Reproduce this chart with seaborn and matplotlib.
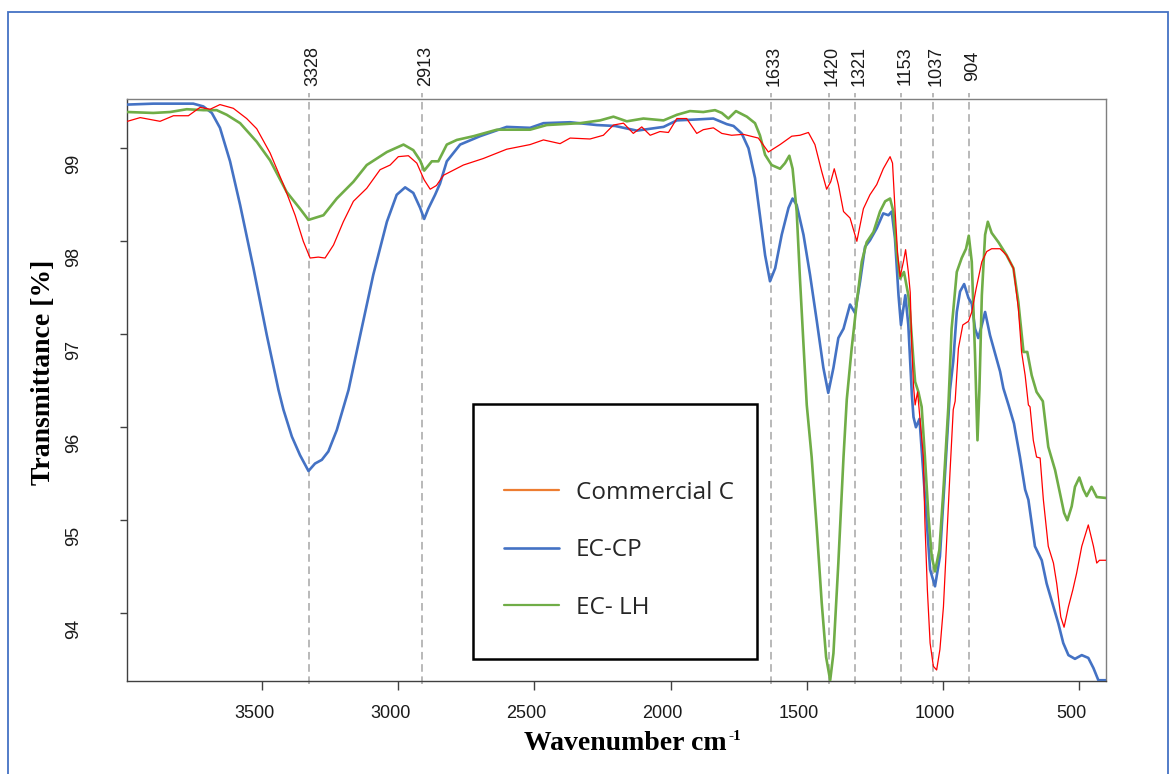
import matplotlib
matplotlib.use("Agg")
import matplotlib.pyplot as plt
from matplotlib.lines import Line2D
from matplotlib.patches import Rectangle
from matplotlib.transforms import ScaledTranslation
import seaborn as sns

# ---- FTIR spectra: wavenumber (cm-1) and transmittance (%) ----
wn_commercial = [3995, 3948, 3875, 3826, 3771, 3728, 3691, 3655, 3606, 3557, 3520, 3471, 3422, 3379,
                 3349, 3324, 3294, 3269, 3238, 3202, 3165, 3116, 3067, 3030, 3000, 2963, 2932, 2905,
                 2883, 2860, 2834, 2761, 2688, 2602, 2516, 2467, 2406, 2369, 2296, 2247, 2210, 2173,
                 2137, 2106, 2075, 2039, 2008, 1977, 1941, 1904, 1880, 1843, 1812, 1776, 1733, 1678,
                 1641, 1598, 1555, 1525, 1494, 1470, 1445, 1427, 1412, 1399, 1384, 1365, 1341, 1316,
                 1292, 1268, 1243, 1219, 1194, 1185, 1176, 1166, 1157, 1145, 1137, 1127, 1120, 1114,
                 1108, 1102, 1093, 1072, 1066, 1057, 1047, 1035, 1023, 1011, 998, 986, 974, 962,
                 955, 943, 927, 906, 894, 878, 857, 839, 821, 790, 766, 741, 723, 711, 698, 686,
                 680, 668, 656, 643, 631, 613, 594, 582, 567, 555, 539, 523, 509, 490, 466, 447,
                 435, 425, 401]
t_commercial = [99.29, 99.33, 99.29, 99.35, 99.35, 99.44, 99.42, 99.47, 99.43, 99.32, 99.21, 98.95, 98.61, 98.28,
                98.00, 97.82, 97.83, 97.82, 97.96, 98.21, 98.43, 98.57, 98.77, 98.82, 98.91, 98.92, 98.84, 98.66,
                98.56, 98.60, 98.71, 98.82, 98.89, 98.99, 99.04, 99.09, 99.05, 99.11, 99.10, 99.14, 99.25, 99.27,
                99.16, 99.23, 99.14, 99.18, 99.17, 99.32, 99.32, 99.16, 99.20, 99.22, 99.16, 99.14, 99.15, 99.11,
                98.96, 99.04, 99.13, 99.14, 99.17, 99.04, 98.75, 98.56, 98.64, 98.78, 98.61, 98.32, 98.25, 98.00,
                98.35, 98.50, 98.61, 98.78, 98.91, 98.84, 98.35, 97.85, 97.62, 97.78, 97.91, 97.67, 97.45, 96.85,
                96.45, 96.24, 96.38, 95.69, 94.97, 94.25, 93.68, 93.43, 93.39, 93.61, 94.07, 94.79, 95.51, 96.19,
                96.28, 96.85, 97.10, 97.14, 97.24, 97.49, 97.78, 97.89, 97.92, 97.92, 97.85, 97.71, 97.28, 96.81, 96.56, 96.24,
                96.22, 95.86, 95.68, 95.67, 95.22, 94.72, 94.54, 94.32, 93.96, 93.85, 94.07, 94.25, 94.43, 94.72, 94.95, 94.72,
                94.54, 94.57, 94.57]

wn_ec_cp = [3995, 3900, 3838, 3753, 3716, 3685, 3655, 3618, 3581, 3532, 3483, 3440, 3422, 3391,
            3361, 3330, 3306, 3281, 3257, 3226, 3204, 3183, 3140, 3092, 3042, 3006, 2975, 2945,
            2920, 2905, 2890, 2865, 2847, 2822, 2773, 2700, 2602, 2516, 2467, 2369, 2271, 2204,
            2124, 2026, 1977, 1904, 1843, 1794, 1769, 1739, 1714, 1690, 1672, 1653, 1635, 1616,
            1592, 1567, 1552, 1537, 1512, 1488, 1463, 1439, 1421, 1402, 1384, 1365, 1341, 1323,
            1304, 1286, 1268, 1243, 1219, 1200, 1188, 1176, 1163, 1154, 1138, 1127, 1114, 1108,
            1099, 1086, 1072, 1059, 1047, 1029, 1011, 992, 974, 962, 949, 937, 922, 906, 894,
            882, 870, 857, 845, 827, 790, 778, 759, 739, 717, 698, 686, 674, 662, 637, 619,
            594, 576, 558, 539, 515, 490, 466, 447, 429, 401]
t_ec_cp = [99.47, 99.48, 99.48, 99.48, 99.45, 99.38, 99.22, 98.86, 98.39, 97.71, 96.99, 96.40, 96.19, 95.90,
           95.70, 95.53, 95.61, 95.65, 95.74, 95.97, 96.19, 96.40, 96.99, 97.64, 98.21, 98.50, 98.58, 98.52,
           98.36, 98.24, 98.35, 98.50, 98.62, 98.86, 99.04, 99.13, 99.23, 99.22, 99.27, 99.28, 99.25, 99.24,
           99.19, 99.23, 99.30, 99.31, 99.32, 99.26, 99.24, 99.16, 99.00, 98.68, 98.28, 97.85, 97.57, 97.71,
           98.07, 98.36, 98.46, 98.39, 98.07, 97.64, 97.14, 96.64, 96.37, 96.64, 96.96, 97.06, 97.32, 97.23,
           97.57, 97.94, 98.01, 98.14, 98.30, 98.28, 98.32, 98.03, 97.42, 97.10, 97.42, 97.10, 96.35, 96.11,
           96.00, 96.09, 95.51, 94.97, 94.47, 94.29, 94.61, 95.51, 96.40, 96.71, 97.24, 97.46, 97.54, 97.39, 97.33,
           97.06, 96.96, 97.10, 97.24, 96.99, 96.60, 96.42, 96.24, 96.04, 95.68, 95.33, 95.22, 94.97, 94.72, 94.57, 94.32,
           94.07, 93.89, 93.68, 93.55, 93.51, 93.55, 93.52, 93.41, 93.28, 93.28]

wn_ec_lh = [3995, 3900, 3838, 3777, 3716, 3667, 3630, 3581, 3520, 3471, 3410, 3361, 3330, 3275,
            3226, 3165, 3116, 3042, 2981, 2945, 2920, 2905, 2877, 2853, 2822, 2785, 2724, 2638,
            2516, 2455, 2333, 2259, 2210, 2161, 2100, 2026, 1977, 1929, 1880, 1837, 1812, 1788,
            1760, 1720, 1690, 1672, 1653, 1629, 1598, 1580, 1564, 1552, 1537, 1525, 1512, 1500,
            1482, 1463, 1445, 1429, 1414, 1402, 1384, 1365, 1353, 1335, 1316, 1298, 1280, 1255,
            1231, 1212, 1194, 1182, 1170, 1157, 1143, 1127, 1121, 1108, 1102, 1090, 1078, 1066,
            1053, 1041, 1029, 1013, 998, 980, 968, 949, 931, 915, 905, 894, 882, 873, 866, 857,
            845, 835, 821, 796, 766, 741, 723, 704, 690, 674, 656, 633, 613, 588, 570, 555,
            543, 527, 515, 499, 484, 472, 454, 435, 401]
t_ec_lh = [99.39, 99.38, 99.39, 99.42, 99.41, 99.41, 99.36, 99.27, 99.07, 98.87, 98.53, 98.35, 98.23, 98.28,
           98.46, 98.64, 98.82, 98.96, 99.04, 98.98, 98.87, 98.76, 98.86, 98.86, 99.04, 99.09, 99.13, 99.20,
           99.20, 99.25, 99.27, 99.30, 99.34, 99.29, 99.32, 99.30, 99.36, 99.40, 99.39, 99.41, 99.38, 99.32,
           99.40, 99.34, 99.27, 99.14, 98.93, 98.82, 98.78, 98.84, 98.92, 98.78, 98.32, 97.60, 96.89, 96.24,
           95.68, 94.90, 94.11, 93.53, 93.28, 93.57, 94.54, 95.68, 96.30, 96.85, 97.35, 97.78, 97.99, 98.10,
           98.32, 98.43, 98.46, 98.32, 97.89, 97.60, 97.67, 97.42, 97.24, 96.71, 96.49, 96.38, 96.22, 95.68,
           95.04, 94.61, 94.45, 94.68, 95.33, 96.22, 97.06, 97.67, 97.82, 97.92, 98.06, 97.78, 96.78, 95.86, 96.40, 97.42,
           98.07, 98.21, 98.09, 97.99, 97.85, 97.71, 97.35, 96.81, 96.81, 96.56, 96.38, 96.28, 95.79, 95.54, 95.29, 95.08,
           95.00, 95.15, 95.36, 95.46, 95.33, 95.26, 95.36, 95.25, 95.24]

peak_positions = [3328, 2913, 1633, 1420, 1321, 1153, 1037, 904]
x_ticks = [3500, 3000, 2500, 2000, 1500, 1000, 500]
y_ticks = [94, 95, 96, 97, 98, 99]
series_labels = ["Commercial C", "EC-CP", "EC- LH"]

# ---- styling ----
sns.set_theme(style="white")
plt.rcParams["font.family"] = ["Liberation Sans", "DejaVu Sans"]

W, H = 1172, 774
fig = plt.figure(figsize=(W / 100, H / 100), dpi=100)
fig.patch.set_facecolor("white")

AX_L, AX_R, AX_T, AX_B = 127.4, 1106.0, 99.0, 680.7
ax = fig.add_axes([AX_L / W, 1 - AX_B / H, (AX_R - AX_L) / W, (AX_B - AX_T) / H])

# blue text-box outline around the whole figure
fig.patches.append(Rectangle((8.4 / W, 1 - 800 / H), (1168 - 8.4) / W, (800 - 11.7) / H,
                             transform=fig.transFigure, fill=False, edgecolor="#4472C4",
                             linewidth=1.3, zorder=0))

BLUE, GREEN, RED, ORANGE = "#4472C4", "#70AD47", "#FF0000", "#ED7D31"

sns.lineplot(x=wn_ec_cp, y=t_ec_cp, color=BLUE, linewidth=1.9, sort=False,
             estimator=None, ax=ax, zorder=3)
sns.lineplot(x=wn_ec_lh, y=t_ec_lh, color=GREEN, linewidth=1.9, sort=False,
             estimator=None, ax=ax, zorder=3)
sns.lineplot(x=wn_commercial, y=t_commercial, color=RED, linewidth=0.9, sort=False,
             estimator=None, ax=ax, zorder=4)

ax.set_xlim(3995, 401)
ax.set_ylim(93.275, 99.53)
ax.set_xlabel("")
ax.set_ylabel("")

# dashed markers of the band positions, with their labels above the frame
for w in peak_positions:
    ax.axvline(w, ymin=-0.006, ymax=1.011, color="#A6A6A6", linewidth=1.1,
               linestyle=(0, (5, 3)), clip_on=False, zorder=1)
    ax.text(w, (AX_B - 66) / (AX_B - AX_T), str(w), transform=ax.get_xaxis_transform()
            + ScaledTranslation(3.5 / 100, 0, fig.dpi_scale_trans),
            rotation=90, ha="center", va="center", fontsize=13, color="#1a1a1a")

# spines and ticks
for side in ["left", "bottom"]:
    ax.spines[side].set_color("#404040")
    ax.spines[side].set_linewidth(1.0)
for side in ["top", "right"]:
    ax.spines[side].set_color("#7f7f7f")
    ax.spines[side].set_linewidth(1.0)

ax.set_xticks(x_ticks)
ax.set_xticklabels([str(v) for v in x_ticks])
ax.set_yticks(y_ticks)
ax.set_yticklabels([str(v) for v in y_ticks], rotation=90, va="center", ha="right")
ax.tick_params(axis="x", bottom=True, direction="out", length=6.5, width=1.0,
               color="#404040", pad=11, labelsize=13, labelcolor="#1a1a1a")
ax.tick_params(axis="y", left=True, direction="out", length=5, width=1.0,
               color="#404040", pad=27.5, labelsize=13, labelcolor="#1a1a1a")
for lab in ax.get_xticklabels():
    lab.set_transform(lab.get_transform() + ScaledTranslation(-8 / 100, 0, fig.dpi_scale_trans))
for lab in ax.get_yticklabels():
    lab.set_transform(lab.get_transform() + ScaledTranslation(0, -16 / 100, fig.dpi_scale_trans))

# axis titles
title_font = dict(family=["Liberation Serif", "DejaVu Serif"], weight="bold", color="black")
fig.text(44 / W, 1 - 372.5 / H, "Transmittance [%]", rotation=90, ha="center", va="center",
         fontsize=20, **title_font)
xl = fig.text(523.5 / W, 1 - 750 / H, "Wavenumber cm", ha="left", va="baseline",
              fontsize=20, **title_font)
fig.canvas.draw()
bb = xl.get_window_extent(fig.canvas.get_renderer())
fig.text((bb.x1 + 2) / W, 1 - 740 / H, "-1", ha="left", va="baseline", fontsize=11, **title_font)

# legend in a framed box
fig.patches.append(Rectangle((472.6 / W, 1 - 659.3 / H), (757.3 - 472.6) / W, (659.3 - 404.3) / H,
                             transform=fig.transFigure, facecolor="white", edgecolor="black",
                             linewidth=1.8, zorder=5))
handles = [Line2D([], [], color=ORANGE, linewidth=1.6),
           Line2D([], [], color=BLUE, linewidth=1.9),
           Line2D([], [], color=GREEN, linewidth=1.6)]
leg = fig.legend(handles, series_labels, loc="center left",
                 bbox_to_anchor=(504 / W, 1 - 550.3 / H), frameon=False,
                 prop=dict(family=["Open Sans", "DejaVu Sans"], size=17.5),
                 handlelength=2.26, handletextpad=0.7, labelspacing=1.37,
                 borderpad=0, borderaxespad=0)
leg.set_zorder(6)

fig.savefig("out.png", dpi=100, facecolor="white")
